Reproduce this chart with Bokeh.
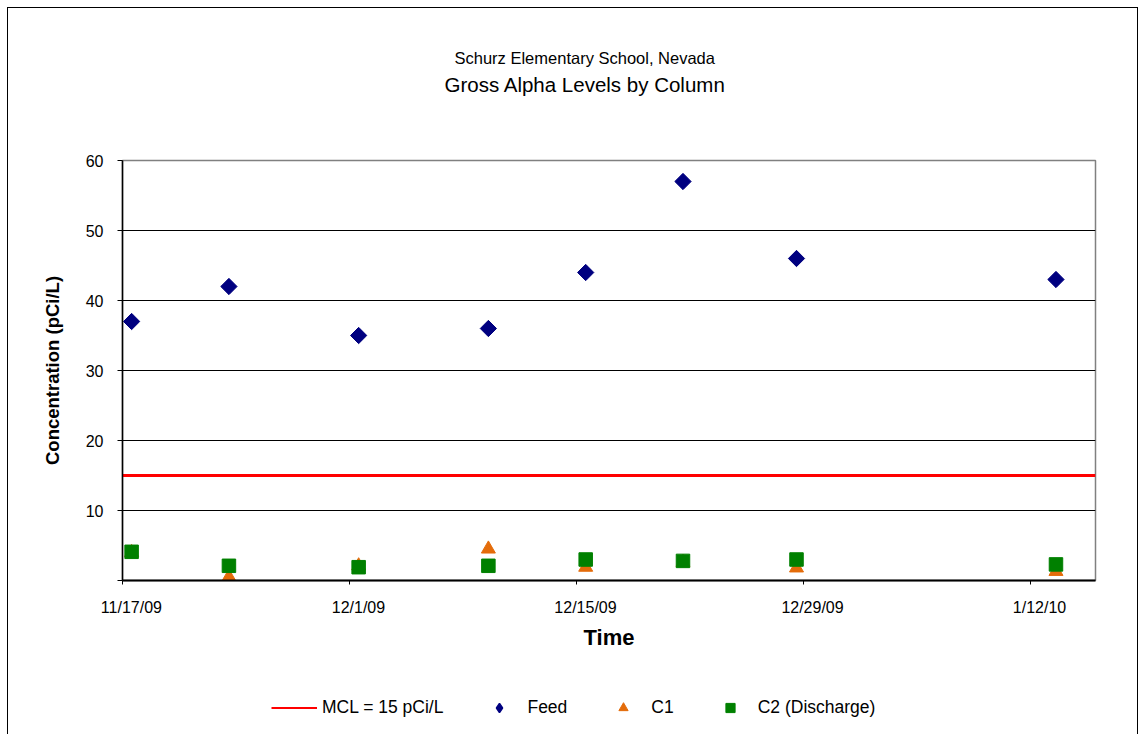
import numpy as np
import pandas as pd
from bokeh.plotting import figure
from bokeh.layouts import column
from bokeh.models import (LinearAxis, FixedTicker, Range1d, Legend, LegendItem,
                          Title, Grid)
from bokeh.embed import file_html
from bokeh.resources import INLINE

# ---------------- data ----------------
sample_dates = ["2009-11-17 13:30", "2009-11-23 13:30", "2009-12-01 13:30", "2009-12-09 13:30",
                "2009-12-15 13:30", "2009-12-21 13:30", "2009-12-28 13:30", "2010-01-13 13:30"]
feed = [37, 42, 35, 36, 44, 57, 46, 43]
c1 = [4.0, 0.5, 2.1, 4.5, 1.9, 2.6, 1.8, 1.3]
c2 = [4.1, 2.1, 1.9, 2.1, 3.0, 2.8, 3.0, 2.3]
mcl_value = 15
tick_dates = ["2009-11-17", "2009-12-01", "2009-12-15", "2009-12-29", "2010-01-12"]
tick_labels = ["11/17/09", "12/1/09", "12/15/09", "12/29/09", "1/12/10"]
y_ticks = [0, 10, 20, 30, 40, 50, 60]
x_start, x_end = "2009-11-17", "2010-01-16"
title_line1 = "Schurz Elementary School, Nevada"
title_line2 = "Gross Alpha Levels by Column"
series_names = ["MCL = 15 pCi/L", "Feed", "C1", "C2 (Discharge)"]


def ms(s):
    return int(pd.Timestamp(s).value // 10**6)


FONT = "Liberation Sans"
DAY = 86400000
RED, NAVY, ORANGE, GREEN = "#FF0000", "#000080", "#E46C0A", "#008000"

x_vals = [ms(d) for d in sample_dates]
tick_ms = [ms(d) for d in tick_dates]
label_shift = int(0.55 * DAY)
label_ms = [t + label_shift for t in tick_ms]

LEG_H = 44
p = figure(width=1145, height=734 - LEG_H, title=None,
           x_range=Range1d(ms(x_start), ms(x_end)), y_range=Range1d(0, 60),
           x_axis_type=None, y_axis_type=None,
           output_backend="svg", toolbar_location=None,
           min_border_left=122, min_border_right=50,
           min_border_top=160, min_border_bottom=110)
p.background_fill_color = "white"
p.border_fill_alpha = 0
p.outline_line_color = "#808080"
p.outline_line_width = 1.5

# gridlines
grid = Grid(dimension=1, ticker=FixedTicker(ticks=[t for t in y_ticks if 0 < t < 60]),
            grid_line_color="black", grid_line_width=1.2)
p.add_layout(grid)

# y axis
yaxis = LinearAxis(ticker=FixedTicker(ticks=y_ticks),
                   major_label_overrides={0: ""},
                   axis_label="Concentration (pCi/L)",
                   axis_label_text_font=FONT, axis_label_text_font_style="bold",
                   axis_label_text_font_size="18.5px", axis_label_standoff=20,
                   axis_label_text_color="black",
                   major_label_text_font=FONT, major_label_text_font_size="16px",
                   major_label_text_color="black",
                   major_label_standoff=14,
                   axis_line_color="black", axis_line_width=1.5,
                   major_tick_line_color="black", major_tick_out=5, major_tick_in=0,
                   minor_tick_line_color=None)
p.add_layout(yaxis, "left")

# x axis: tick marks
xaxis1 = LinearAxis(ticker=FixedTicker(ticks=tick_ms),
                    major_label_overrides={t: "" for t in tick_ms},
                    axis_line_color="black", axis_line_width=2,
                    major_tick_line_color="black", major_tick_out=4, major_tick_in=0,
                    minor_tick_line_color=None, major_label_standoff=0)
p.add_layout(xaxis1, "below")

# x axis: labels (Excel draws them slightly right of the tick)
xaxis2 = LinearAxis(ticker=FixedTicker(ticks=label_ms),
                    major_label_overrides={t: lab for t, lab in zip(label_ms, tick_labels)},
                    axis_line_color=None, major_tick_line_color=None,
                    major_tick_out=0, major_tick_in=0, minor_tick_line_color=None,
                    major_label_text_font=FONT, major_label_text_font_size="16px",
                    major_label_text_color="black", major_label_standoff=14,
                    axis_label="Time", axis_label_text_font=FONT,
                    axis_label_text_font_style="bold", axis_label_text_font_size="22px",
                    axis_label_text_color="black", axis_label_standoff=6)
p.add_layout(xaxis2, "below")

# MCL line and series
p.line(x=[ms(x_start), ms(x_end)], y=[mcl_value, mcl_value], line_color=RED, line_width=3)
p.scatter(x=x_vals, y=feed, marker="square", angle=np.pi / 4, size=11.5,
          fill_color=NAVY, line_color=NAVY)
p.scatter(x=x_vals, y=c1, marker="triangle", size=14, fill_color=ORANGE, line_color=ORANGE)
p.scatter(x=x_vals, y=c2, marker="square", size=13.5, fill_color=GREEN, line_color=GREEN)

# titles (first added sits nearest the plot; the blank one is a spacer)
p.add_layout(Title(text=" ", text_font_size="1px", standoff=60), "above")
p.add_layout(Title(text=title_line2, align="left", offset=322,
                   text_font=FONT, text_font_size="20.5px", text_font_style="normal",
                   text_color="black", standoff=4), "above")
p.add_layout(Title(text=title_line1, align="left", offset=332,
                   text_font=FONT, text_font_size="16.5px", text_font_style="normal",
                   text_color="black", standoff=4), "above")

# legend strip below the chart (proxy renderers hold no visible data)
leg = figure(width=1145, height=LEG_H, title=None, x_axis_type=None, y_axis_type=None,
             x_range=Range1d(0, 1), y_range=Range1d(0, 1),
             output_backend="svg", toolbar_location=None, min_border=0)
leg.outline_line_color = None
leg.background_fill_alpha = 0
leg.border_fill_alpha = 0
nan = [float("nan")]
lr_mcl = leg.line(x=nan, y=nan, line_color=RED, line_width=2)
lr_feed = leg.scatter(x=nan, y=nan, marker="diamond", size=9,
                      fill_color=NAVY, line_color=NAVY, line_width=1.5)
lr_c1 = leg.scatter(x=nan, y=nan, marker="triangle", size=9, fill_color=ORANGE, line_color=ORANGE)
lr_c2 = leg.scatter(x=nan, y=nan, marker="square", size=9, fill_color=GREEN, line_color=GREEN)

legend = Legend(items=[LegendItem(label=n, renderers=[r])
                       for n, r in zip(series_names, [lr_mcl, lr_feed, lr_c1, lr_c2])],
                location=(149, 15), orientation="horizontal",
                padding=0, margin=0, spacing=33,
                border_line_alpha=0, background_fill_alpha=0,
                glyph_width=46, glyph_height=23, label_height=23,
                label_standoff=5,
                label_text_font=FONT, label_text_font_size="17.5px",
                label_text_color="black")
leg.add_layout(legend)

layout = column(p, leg, spacing=0)
layout.styles = {
    "background": ("linear-gradient(#000,#000) 7px 7px / 1px 727px no-repeat, "
                   "linear-gradient(#000,#000) 7px 7px / 1131px 1px no-repeat, "
                   "linear-gradient(#000,#000) 1137px 7px / 1px 727px no-repeat, #fff"),
}

open("out.html", "w").write(file_html(layout, INLINE))
